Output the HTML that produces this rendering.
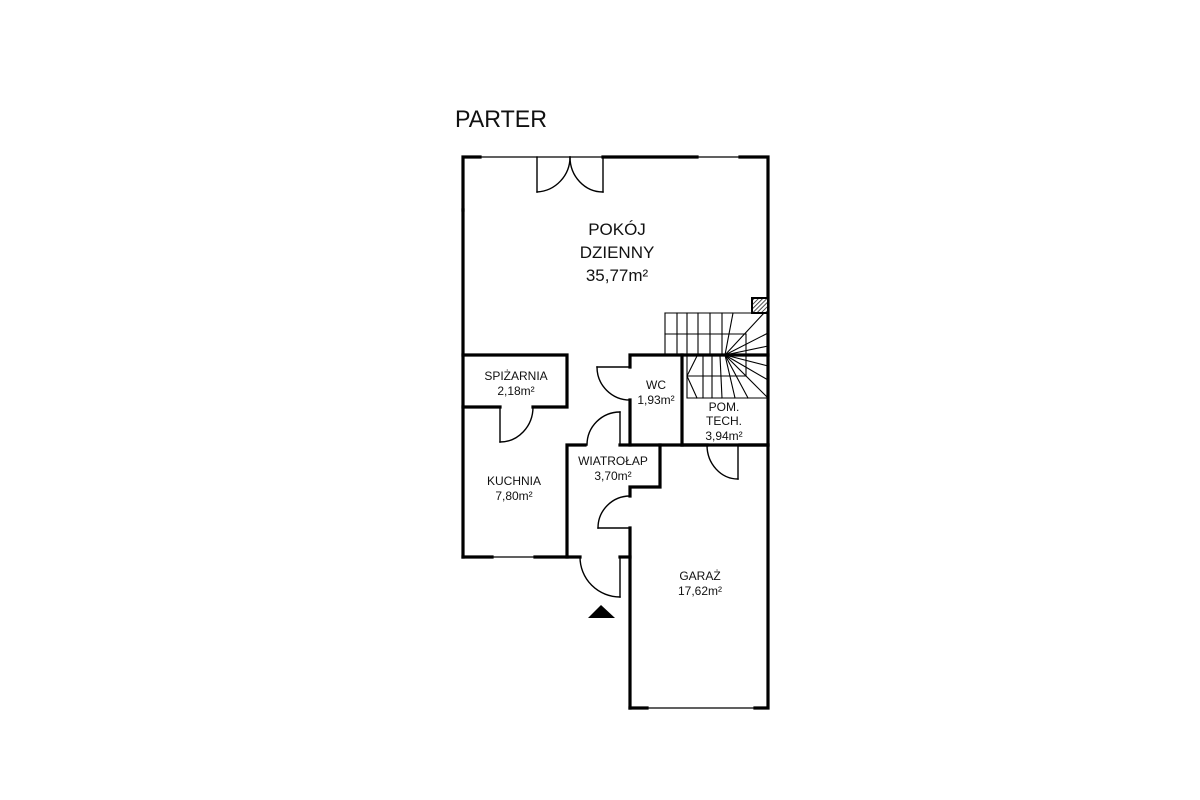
<!DOCTYPE html>
<html><head><meta charset="utf-8"><style>
html,body{margin:0;padding:0;background:#fff;}
svg{display:block;}
text{font-family:"Liberation Sans",sans-serif;fill:#111;}
</style></head><body>
<svg width="1200" height="800" viewBox="0 0 1200 800" xmlns="http://www.w3.org/2000/svg">
<defs>
<pattern id="h" width="3" height="3" patternUnits="userSpaceOnUse" patternTransform="rotate(45)">
<rect width="3" height="3" fill="#fff"/><line x1="0" y1="0" x2="0" y2="3" stroke="#222" stroke-width="1.6"/></pattern>
</defs>
<text x="455" y="127" font-size="24" textLength="92" lengthAdjust="spacingAndGlyphs">PARTER</text>
<g stroke="#000" fill="none" stroke-linecap="square">
<g stroke-width="1.2">
<line x1="463" y1="157" x2="768" y2="157"/>
<line x1="463" y1="157" x2="463" y2="210"/>
<line x1="463" y1="557" x2="567" y2="557"/>
<line x1="630" y1="708" x2="768" y2="708"/>
</g>
<g stroke-width="3.2">
<polyline points="463,210 463,157 480,157"/>
<line x1="603" y1="157" x2="697" y2="157"/>
<polyline points="740,157 768,157 768,708 755,708"/>
<line x1="463" y1="210" x2="463" y2="557"/>
<line x1="463" y1="557" x2="492" y2="557"/>
<line x1="535" y1="557" x2="580" y2="557"/>
<line x1="620" y1="557" x2="630" y2="557"/>
<line x1="647" y1="708" x2="630" y2="708"/>
<polyline points="630,708 630,528"/>
<polyline points="630,496 630,487 660,487 660,445 768,445"/>
<polyline points="463,355 567,355 567,407 533,407"/>
<line x1="463" y1="407" x2="500" y2="407"/>
<polyline points="567,557 567,445 585,445"/>
<polyline points="630,367 630,355 768,355"/>
<polyline points="630,400 630,445 660,445"/>
<line x1="682" y1="355" x2="682" y2="445"/>
<line x1="620" y1="445" x2="630" y2="445"/>
<line x1="682" y1="445" x2="707" y2="445"/>
<line x1="740" y1="445" x2="768" y2="445"/>
</g>
<g stroke-width="1.4">
<line x1="537" y1="157" x2="537" y2="192"/><path d="M537,192 A35,35 0 0 0 570,157"/>
<line x1="603" y1="157" x2="603" y2="192"/><path d="M603,192 A33,35 0 0 1 570,157"/>
<line x1="500" y1="407" x2="500" y2="442"/><path d="M500,442 A33,35 0 0 0 533,407"/>
<line x1="630" y1="367" x2="597" y2="367"/><path d="M597,367 A33,33 0 0 0 630,400"/>
<line x1="620" y1="445" x2="620" y2="412"/><path d="M620,412 A33,33 0 0 0 587,445"/>
<line x1="630" y1="528" x2="598" y2="528"/><path d="M598,528 A32,32 0 0 1 630,496"/>
<line x1="738" y1="445" x2="738" y2="479"/><path d="M738,479 A31,34 0 0 1 707,445"/>
<line x1="620" y1="557" x2="620" y2="597"/><path d="M620,597 A40,40 0 0 1 580,557"/>
</g>
<g stroke-width="1.1">
<line x1="665" y1="313" x2="768" y2="313"/>
<line x1="665" y1="313" x2="665" y2="355"/>
<line x1="677" y1="313" x2="677" y2="355"/>
<line x1="687" y1="313" x2="687" y2="355"/>
<line x1="698" y1="313" x2="698" y2="355"/>
<line x1="710" y1="313" x2="710" y2="355"/>
<line x1="722" y1="313" x2="722" y2="355"/>
<line x1="733" y1="313" x2="725" y2="355"/>
<line x1="665" y1="334" x2="746" y2="334"/>
<line x1="746" y1="334" x2="746" y2="376"/>
<line x1="725" y1="355" x2="764" y2="313"/>
<line x1="725" y1="355" x2="768" y2="333"/>
<line x1="725" y1="355" x2="768" y2="346"/>
<line x1="725" y1="355" x2="768" y2="366"/>
<line x1="725" y1="355" x2="768" y2="380"/>
<line x1="725" y1="355" x2="768" y2="398"/>
<line x1="725" y1="355" x2="748" y2="398"/>
<line x1="725" y1="355" x2="735" y2="398"/>
<polyline points="687,355 687,398 768,398"/>
<line x1="687" y1="376" x2="746" y2="376"/>
<polyline points="697,356 687,376 697,398"/>
<line x1="703" y1="356" x2="703" y2="398"/>
<line x1="712" y1="356" x2="712" y2="398"/>
<line x1="720" y1="356" x2="722" y2="398"/>
</g>
<rect x="752" y="298" width="16" height="15" fill="url(#h)" stroke-width="2"/>
</g>
<polygon points="588,618 615,618 601,605" fill="#000"/>
<g text-anchor="middle">
<text x="617" y="235" font-size="17">POKÓJ</text>
<text x="617" y="258" font-size="17">DZIENNY</text>
<text x="617" y="281" font-size="17">35,77m²</text>
<text x="516" y="380" font-size="12">SPIŻARNIA</text>
<text x="516" y="395" font-size="12">2,18m²</text>
<text x="656" y="389" font-size="12">WC</text>
<text x="656" y="404" font-size="12">1,93m²</text>
<text x="724" y="411" font-size="12">POM.</text>
<text x="724" y="425" font-size="12">TECH.</text>
<text x="724" y="440" font-size="12">3,94m²</text>
<text x="613" y="465" font-size="12">WIATROŁAP</text>
<text x="613" y="480" font-size="12">3,70m²</text>
<text x="514" y="485" font-size="12">KUCHNIA</text>
<text x="514" y="500" font-size="12">7,80m²</text>
<text x="700" y="580" font-size="12">GARAŻ</text>
<text x="700" y="595" font-size="12">17,62m²</text>
</g>
</svg>
</body></html>
